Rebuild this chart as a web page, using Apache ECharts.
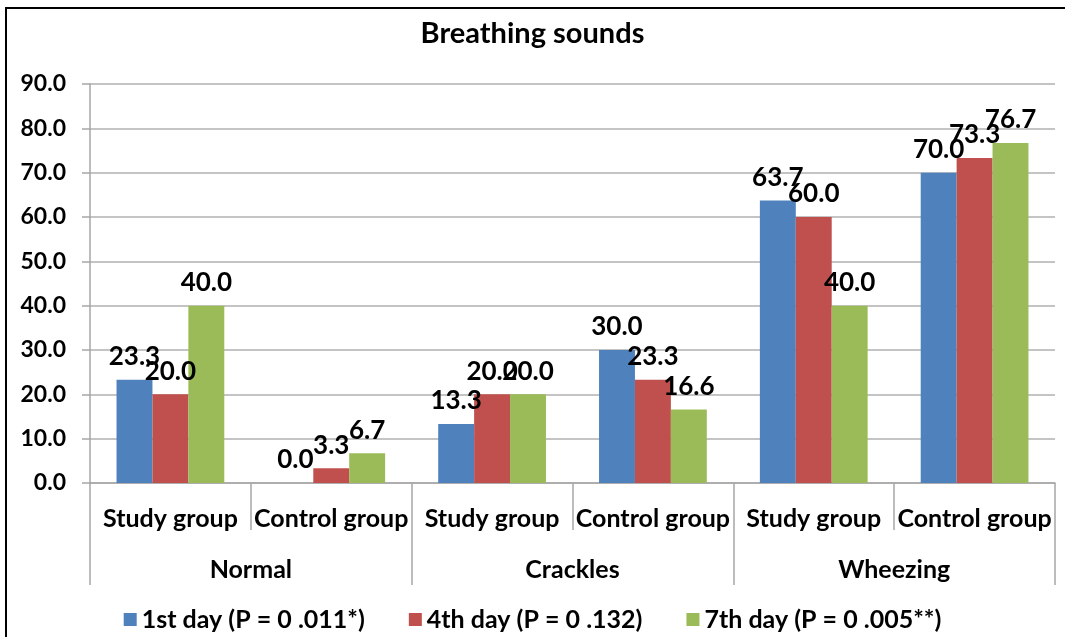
<!DOCTYPE html>
<html>
<head>
<meta charset="utf-8">
<script src="https://cdn.jsdelivr.net/npm/echarts@6/dist/echarts.min.js"></script>
<style>
  html, body { margin: 0; padding: 0; background: #fff; }
  #main { width: 1065px; height: 637px; }
</style>
</head>
<body>
<div id="main"></div>
<script>
// data
const groups = ["Study group", "Control group", "Study group", "Control group", "Study group", "Control group"];
const sounds = ["Normal", "Crackles", "Wheezing"];
const seriesNames = ["1st day (P = 0 .011*)", "4th day (P = 0 .132)", "7th day (P = 0 .005**)"];
const day1 = [23.3, 0.0, 13.3, 30.0, 63.7, 70.0];
const day4 = [20.0, 3.3, 20.0, 23.3, 60.0, 73.3];
const day7 = [40.0, 6.7, 20.0, 16.6, 40.0, 76.7];
const colors = ["#4F81BD", "#C0504D", "#9BBB59"];

const font = "Lato";
const chart = echarts.init(document.getElementById("main"), null, { renderer: "canvas" });

function barSeries(name, data, i) {
    return {
        name: name,
        type: "bar",
        xAxisIndex: 0,
        data: data,
        barGap: "0%",
        barCategoryGap: "33%",
        itemStyle: { color: colors[i] },
        label: {
            show: true,
            position: "top",
            distance: 10,
            color: "#000",
            fontFamily: font,
            fontWeight: "bold",
            fontSize: 26,
            formatter: (p) => p.value.toFixed(1)
        }
    };
}

const option = {
    animation: false,
    backgroundColor: "#fff",
    title: {
        text: "Breathing sounds",
        left: "center",
        top: 14,
        textStyle: { fontFamily: font, fontWeight: "bold", fontSize: 29, color: "#000" }
    },
    legend: {
        bottom: 0,
        left: "center",
        itemGap: 44,
        itemWidth: 13,
        itemHeight: 13,
        icon: "rect",
        textStyle: { fontFamily: font, fontWeight: "bold", fontSize: 25, color: "#000" },
        data: seriesNames
    },
    grid: { left: 90, right: 10, top: 84, bottom: 154, containLabel: false },
    xAxis: [
        {
            type: "category",
            data: groups,
            axisLine: { lineStyle: { color: "#a6a6a6", width: 1.5 } },
            axisTick: { show: true, length: 47, interval: 0, lineStyle: { color: "#a6a6a6", width: 1.5 } },
            axisLabel: { interval: 0, margin: 23, color: "#000", fontFamily: font, fontWeight: "bold", fontSize: 25 }
        },
        {
            type: "category",
            data: sounds,
            position: "bottom",
            axisLine: { show: false },
            axisTick: { show: true, length: 102, interval: 0, lineStyle: { color: "#a6a6a6", width: 1.5 } },
            axisLabel: { interval: 0, margin: 74, color: "#000", fontFamily: font, fontWeight: "bold", fontSize: 25 }
        }
    ],
    yAxis: {
        type: "value",
        min: 0,
        max: 90,
        interval: 10,
        axisLine: { show: true, lineStyle: { color: "#a6a6a6", width: 1.5 } },
        axisTick: { show: true, length: 8, lineStyle: { color: "#a6a6a6", width: 1.5 } },
        splitLine: { lineStyle: { color: "#b0b0b0", width: 1.5 } },
        axisLabel: {
            margin: 24,
            color: "#000",
            fontFamily: font,
            fontWeight: "bold",
            fontSize: 23,
            formatter: (v) => v.toFixed(1)
        }
    },
    graphic: [
        {
            type: "rect",
            shape: { x: 6, y: 8, width: 1200, height: 800 },
            style: { fill: null, stroke: "#000", lineWidth: 2 },
            silent: true
        }
    ],
    series: [
        barSeries(seriesNames[0], day1, 0),
        barSeries(seriesNames[1], day4, 1),
        barSeries(seriesNames[2], day7, 2)
    ]
};
chart.setOption(option);
</script>
</body>
</html>
